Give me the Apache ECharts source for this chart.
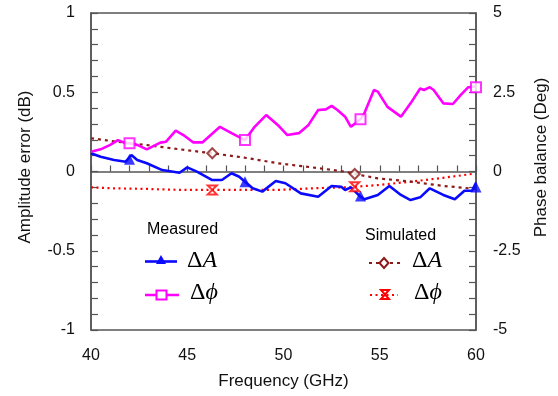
<!DOCTYPE html>
<html>
<head>
<meta charset="utf-8">
<script src="https://cdn.jsdelivr.net/npm/echarts@6/dist/echarts.min.js"></script>
<style>html,body{margin:0;padding:0;background:#fff;}#c{width:558px;height:396px;}</style>
</head>
<body>
<div id="c"></div>
<script>
// X axis ticks (GHz)
const xTicks = [40, 45, 50, 55, 60];
const leftTicks = [-1, -0.5, 0, 0.5, 1];
const rightTicks = [-5, -2.5, 0, 2.5, 5];

// Measured amplitude error (dB)
const measFreqA = [40.0, 40.5, 41.2, 41.8, 42.1, 42.4, 42.9, 43.7, 44.6, 45.0, 45.5, 46.3, 46.8, 47.3, 47.7, 48.0, 48.4, 48.9, 49.6, 50.1, 50.9, 51.8, 52.5, 53.0, 53.2, 53.5, 54.0, 54.2, 54.9, 55.5, 56.1, 56.6, 57.1, 57.6, 58.3, 58.9, 59.4, 59.8, 60.0];
const measA = [0.115, 0.093, 0.073, 0.062, 0.104, 0.073, 0.052, 0.009, -0.008, 0.026, -0.001, -0.054, -0.054, -0.011, -0.033, -0.064, -0.106, -0.127, -0.060, -0.074, -0.138, -0.159, -0.091, -0.096, -0.117, -0.100, -0.159, -0.175, -0.148, -0.091, -0.148, -0.180, -0.163, -0.106, -0.148, -0.175, -0.121, -0.121, -0.071];

// Measured phase balance (deg)
const measFreqP = [40.0, 40.5, 41.0, 41.4, 41.8, 42.0, 42.4, 42.9, 43.6, 43.9, 44.4, 44.8, 45.3, 45.8, 46.7, 47.3, 48.0, 48.5, 49.1, 49.7, 50.2, 50.8, 51.3, 51.8, 52.2, 52.5, 52.8, 53.2, 53.5, 54.0, 54.2, 54.7, 54.9, 55.4, 56.1, 56.6, 57.1, 57.3, 57.6, 57.8, 58.3, 58.8, 59.2, 59.6, 60.0];
const measP = [0.62, 0.70, 0.84, 0.99, 0.89, 0.89, 0.84, 0.70, 0.91, 0.94, 1.29, 1.15, 0.92, 0.92, 1.41, 1.21, 0.99, 1.41, 1.78, 1.47, 1.15, 1.21, 1.47, 1.94, 1.96, 2.07, 1.94, 1.73, 1.41, 1.65, 1.84, 2.57, 2.52, 2.04, 1.73, 2.15, 2.62, 2.57, 2.66, 2.57, 2.15, 2.13, 2.41, 2.66, 2.68];

// Measured marker positions
const measMarkFreq = [42, 48, 54, 60];
const measAMarks = [0.077, -0.064, -0.155, -0.098];
const measPMarks = [0.89, 0.99, 1.65, 2.66];

// Simulated
const simFreq = [40, 41.2, 42.9, 44.6, 46.3, 48, 49.7, 51.5, 53.2, 53.7, 54.9, 56.6, 58.3, 60];
const simA = [0.21, 0.19, 0.167, 0.14, 0.115, 0.087, 0.052, 0.026, -0.001, -0.016, -0.043, -0.064, -0.091, -0.11];
const simP = [-0.50, -0.53, -0.55, -0.58, -0.58, -0.58, -0.58, -0.53, -0.50, -0.48, -0.43, -0.32, -0.20, -0.06];
const simMarkFreq = [46.3, 53.7];
const simAMarks = [0.115, -0.016];
const simPMarks = [-0.58, -0.48];

const zip = (xs, ys) => xs.map((x, i) => [x, ys[i]]);

const SANS = '"Liberation Sans", Arial, sans-serif';
const SERIF = '"Liberation Serif", "Times New Roman", serif';
const axisCol = '#555';
const C_BLUE = '#0a0aff', C_MAG = '#ff00ff', C_DRED = '#8b1a1a', C_RED = '#ff0000';
const HOUR = 'path://M0,0 L10,0 L0,10 L10,10 Z';

const chart = echarts.init(document.getElementById('c'), null, {renderer: 'canvas'});

function yAxisCfg(pos, ticks, name, namePad) {
  return {
    type: 'value', position: pos,
    min: ticks[0], max: ticks[ticks.length - 1], interval: ticks[1] - ticks[0],
    name: name, nameLocation: 'middle', nameGap: 57, nameRotate: 90,
    nameTextStyle: {fontFamily: SANS, fontSize: 17, color: '#111', padding: namePad},
    axisLine: {show: true, lineStyle: {color: axisCol, width: 1.5}},
    axisTick: {show: true, inside: true, length: 7, lineStyle: {color: axisCol, width: 1.2}},
    minorTick: {show: true, splitNumber: 5, length: 7, lineStyle: {color: axisCol, width: 1.2}},
    axisLabel: {fontFamily: SANS, fontSize: 16, color: '#111', margin: pos === 'left' ? 16 : 17, padding: [5, 0, 0, 0]},
    splitLine: {show: false}, minorSplitLine: {show: false}
  };
}

const legendText = (x, y, italic) => ({
  type: 'text', x: x, y: y,
  style: {
    text: '{d|Δ}{i|' + italic + '}', verticalAlign: 'middle',
    rich: {
      d: {fontFamily: SERIF, fontSize: 24, fill: '#000'},
      i: {fontFamily: SERIF, fontSize: 24, fontStyle: 'italic', fill: '#000'}
    }
  }
});

chart.setOption({
  animation: false,
  backgroundColor: '#fff',
  grid: {left: 91, right: 79, top: 13, bottom: 66, show: true, borderColor: axisCol, borderWidth: 1.5},
  xAxis: {
    type: 'value', min: xTicks[0], max: xTicks[xTicks.length - 1], interval: 5,
    name: 'Frequency (GHz)', nameLocation: 'middle', nameGap: 43,
    nameTextStyle: {fontFamily: SANS, fontSize: 17, color: '#111'},
    axisLine: {show: true, lineStyle: {color: axisCol, width: 1.5}},
    axisTick: {show: true, inside: true, length: 6, lineStyle: {color: axisCol, width: 1.2}},
    minorTick: {show: true, splitNumber: 5, length: 6, lineStyle: {color: axisCol, width: 1.2}},
    axisLabel: {fontFamily: SANS, fontSize: 16, color: '#111', margin: 18},
    splitLine: {show: false}
  },
  yAxis: [
    yAxisCfg('left', leftTicks, 'Amplitude error (dB)', [0, 0, 0, 9]),
    yAxisCfg('right', rightTicks, 'Phase balance (Deg)', [0, 0, 0, 28])
  ],
  series: [
    {type: 'line', yAxisIndex: 1, data: zip(simFreq, simP), symbol: 'none',
     lineStyle: {color: C_RED, width: 2.2, type: [2, 3.5]}, z: 2},
    {type: 'line', yAxisIndex: 0, data: zip(simFreq, simA), symbol: 'none',
     lineStyle: {color: C_DRED, width: 2.2, type: [3, 4]}, z: 2},
    {type: 'line', yAxisIndex: 0, data: zip(measFreqA, measA), symbol: 'none',
     lineStyle: {color: C_BLUE, width: 2.6}, z: 3},
    {type: 'line', yAxisIndex: 1, data: zip(measFreqP, measP), symbol: 'none',
     lineStyle: {color: C_MAG, width: 2.6}, z: 3},
    {type: 'scatter', yAxisIndex: 0, data: zip(measMarkFreq, measAMarks), symbol: 'triangle', symbolSize: 11,
     itemStyle: {color: C_BLUE}, z: 5},
    {type: 'scatter', yAxisIndex: 1, data: zip(measMarkFreq, measPMarks), symbol: 'rect', symbolSize: 10,
     itemStyle: {color: '#fff', borderColor: C_MAG, borderWidth: 2}, z: 5},
    {type: 'scatter', yAxisIndex: 0, data: zip(simMarkFreq, simAMarks), symbol: 'diamond', symbolSize: 10,
     itemStyle: {color: '#fff', borderColor: C_DRED, borderWidth: 2}, z: 5},
    {type: 'scatter', yAxisIndex: 1, data: zip(simMarkFreq, simPMarks), symbol: HOUR, symbolSize: 9,
     itemStyle: {color: '#fff', borderColor: C_RED, borderWidth: 2}, z: 5}
  ],
  graphic: [
    {type: 'text', x: 147, y: 230, style: {text: 'Measured', font: '16px ' + SANS, fill: '#000', verticalAlign: 'middle'}},
    {type: 'line', shape: {x1: 145, y1: 261.5, x2: 177, y2: 261.5}, style: {stroke: C_BLUE, lineWidth: 2.6}},
    {type: 'polygon', shape: {points: [[161, 255], [166, 264], [156, 264]]}, style: {fill: C_BLUE}},
    legendText(187, 261, 'A'),
    {type: 'line', shape: {x1: 145, y1: 295, x2: 179, y2: 295}, style: {stroke: C_MAG, lineWidth: 2.6}},
    {type: 'rect', shape: {x: 156.5, y: 290.5, width: 10, height: 9}, style: {fill: '#fff', stroke: C_MAG, lineWidth: 2}},
    legendText(190, 293, 'ϕ'),
    {type: 'text', x: 365, y: 236, style: {text: 'Simulated', font: '16px ' + SANS, fill: '#000', verticalAlign: 'middle'}},
    {type: 'line', shape: {x1: 369, y1: 263, x2: 400, y2: 263}, style: {stroke: C_DRED, lineWidth: 2, lineDash: [3, 4]}},
    {type: 'polygon', shape: {points: [[384, 258], [388.5, 263], [384, 268], [379.5, 263]]}, style: {fill: '#fff', stroke: C_DRED, lineWidth: 2}},
    legendText(412, 261, 'A'),
    {type: 'line', shape: {x1: 370, y1: 295, x2: 398, y2: 295}, style: {stroke: C_RED, lineWidth: 2, lineDash: [2, 3.5]}},
    {type: 'polygon', shape: {points: [[381, 290], [389, 290], [381, 299], [389, 299]]}, style: {fill: '#fff', stroke: C_RED, lineWidth: 2}},
    legendText(414, 293, 'ϕ')
  ]
});
</script>
</body>
</html>
